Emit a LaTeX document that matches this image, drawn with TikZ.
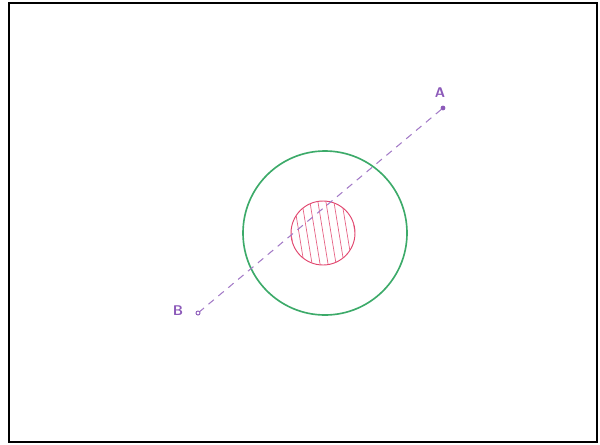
\documentclass[tikz,border=0pt]{standalone}
\usepackage{tikz}

\definecolor{penviolet}{RGB}{140,90,185}
\definecolor{pengreen}{RGB}{60,170,105}
\definecolor{penred}{RGB}{225,70,110}

\tikzset{
    ptlabel/.style={text=penviolet, font=\sffamily\bfseries\large, inner sep=1pt}
}

\begin{document}
\begin{tikzpicture}[x=0.03cm, y=-0.03cm]
            \useasboundingbox (0,0) rectangle (600,444);
            % Frame
            \draw[line width=2.1pt] (9,3) rectangle (597,442);

            % Outer circle
            \draw[draw=pengreen, line width=1.4pt] (325,233) circle (82);

            % Hatched inner circle
            \draw[draw=penred, line width=0.8pt] (323,233) circle (32);
            \begin{scope}
                \clip (323,233) circle (32);
                \foreach \x in {-48,-40,...,48}
                    \draw[draw=penred!85, line width=0.6pt] (323+\x-7,190) -- (323+\x+7,276);
            \end{scope}

            % Points
            \coordinate (A) at (443,108);
            \coordinate (B) at (198,313);
            \fill[penviolet] (A) circle (2.4);
            \draw[draw=penviolet, line width=0.8pt] (B) circle (2);
            \node[ptlabel] (labA) at (440,93) {A};
            \node[ptlabel] (labB) at (178,311) {B};

            % Line through the circles
            \draw[draw=penviolet!80, line width=0.9pt, dash pattern=on 6pt off 5pt, shorten <=2pt, shorten >=2pt] (A) -- (B);
        \end{tikzpicture}
\end{document}
